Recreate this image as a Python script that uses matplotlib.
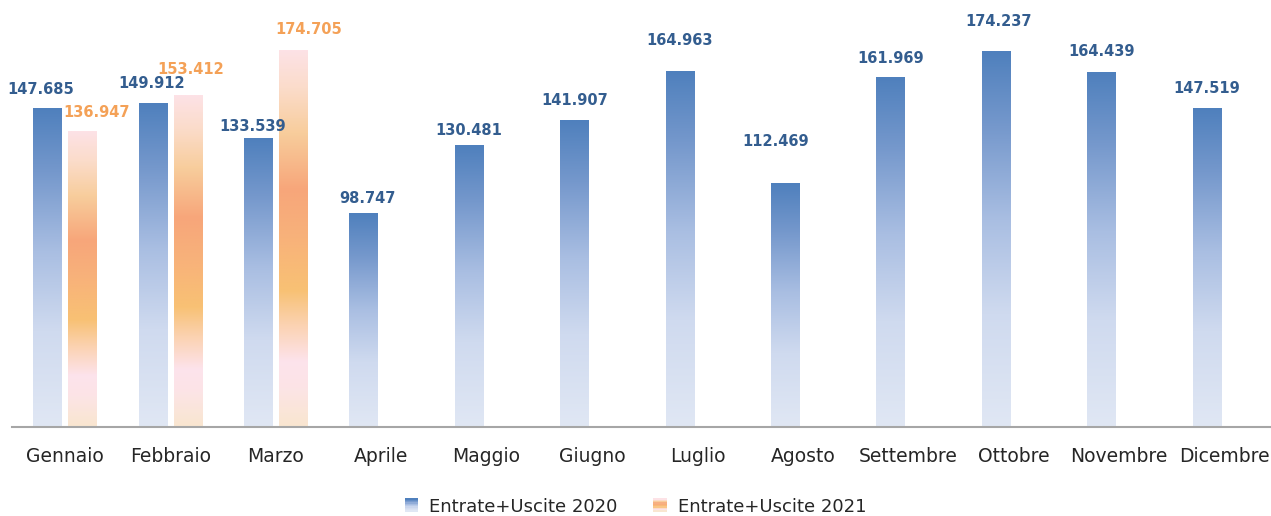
import numpy as np
import matplotlib
matplotlib.use("Agg")
import matplotlib.pyplot as plt
from matplotlib.colors import LinearSegmentedColormap
from matplotlib.legend_handler import HandlerBase
from matplotlib.patches import Rectangle

months = ["Gennaio", "Febbraio", "Marzo", "Aprile", "Maggio", "Giugno",
          "Luglio", "Agosto", "Settembre", "Ottobre", "Novembre", "Dicembre"]
val_2020 = [147.685, 149.912, 133.539, 98.747, 130.481, 141.907,
            164.963, 112.469, 161.969, 174.237, 164.439, 147.519]
val_2021 = [136.947, 153.412, 174.705]
labels_2020 = ["147.685", "149.912", "133.539", "98.747", "130.481", "141.907",
               "164.963", "112.469", "161.969", "174.237", "164.439", "147.519"]
labels_2021 = ["136.947", "153.412", "174.705"]

# label nudges (points), as placed in the original chart
dx20 = [-5, -1, -4, 3, 0, 0, 0, -7, 0, 2, 0, 0]
dy20 = [14, 15, 9, 11, 11, 15, 22, 31, 14, 22, 15, 15]
dx21 = [10, 2, 11]
dy21 = [14, 19, 15]

blue_cmap = LinearSegmentedColormap.from_list("b", [
    (0.0, "#e0e7f4"), (0.3, "#cfdaef"), (0.55, "#a9bee2"),
    (0.8, "#7598cc"), (1.0, "#4f80bd")])
orange_cmap = LinearSegmentedColormap.from_list("o", [
    (0.0, "#f9e6d0"), (0.1, "#fce4e6"), (0.17, "#fde3ec"), (0.27, "#fbd2b0"),
    (0.36, "#f8c174"), (0.5, "#f8b27a"), (0.63, "#f7a67a"), (0.78, "#f8cd9c"),
    (0.9, "#fbdcca"), (1.0, "#fde2e6")])

grad = np.linspace(0, 1, 256).reshape(-1, 1)

fig = plt.figure(figsize=(12.71, 5.16), dpi=100)
ax = fig.add_axes([12.3 / 1271, 89.5 / 516, 1264.8 / 1271, 426.5 / 516])

w = 0.27
off = 0.166
x = np.arange(len(months))

for i, v in enumerate(val_2020):
    ax.imshow(grad, extent=[x[i] - off - w / 2, x[i] - off + w / 2, 0, v],
              origin="lower", aspect="auto", cmap=blue_cmap, interpolation="bilinear")
    ax.annotate(labels_2020[i], (x[i] - off, v), xytext=(dx20[i], dy20[i]),
                textcoords="offset points", ha="center", va="center",
                fontsize=10.5, fontweight="bold", color="#335d8f")

for i, v in enumerate(val_2021):
    ax.imshow(grad, extent=[x[i] + off - w / 2, x[i] + off + w / 2, 0, v],
              origin="lower", aspect="auto", cmap=orange_cmap, interpolation="bilinear")
    ax.annotate(labels_2021[i], (x[i] + off, v), xytext=(dx21[i], dy21[i]),
                textcoords="offset points", ha="center", va="center",
                fontsize=10.5, fontweight="bold", color="#f4a157")

ax.set_xlim(-0.5, len(months) - 0.5)
ax.set_ylim(0, 198.2)
ax.set_xticks(x)
ax.set_xticklabels(months, fontsize=13.5, color="#262626")
ax.tick_params(axis="x", length=0, pad=15)
ax.set_yticks([])
for s in ["top", "right", "left"]:
    ax.spines[s].set_visible(False)
ax.spines["bottom"].set_color("#a6a6a6")
ax.spines["bottom"].set_linewidth(1.5)


class GradHandler(HandlerBase):
    def __init__(self, cmap):
        super().__init__()
        self.cmap = cmap

    def create_artists(self, legend, orig, xd, yd, width, height, fontsize, trans):
        n = 10
        arts = []
        for k in range(n):
            c = self.cmap(1 - k / (n - 1))
            r = Rectangle((xd, yd + height - (k + 1) * height / n), width, height / n,
                          facecolor=c, edgecolor="none", transform=trans)
            arts.append(r)
        return arts


h1 = Rectangle((0, 0), 1, 1)
h2 = Rectangle((0, 0), 1, 1)
fig.legend([h1, h2], ["Entrate+Uscite 2020", "Entrate+Uscite 2021"],
           handler_map={h1: GradHandler(blue_cmap), h2: GradHandler(orange_cmap)},
           loc="center", bbox_to_anchor=(0.5, 9 / 516), ncol=2, frameon=False,
           fontsize=13, handlelength=0.75, handleheight=0.75, handletextpad=0.6,
           columnspacing=2.0, labelcolor="#262626")

fig.savefig("out.png", dpi=100)
